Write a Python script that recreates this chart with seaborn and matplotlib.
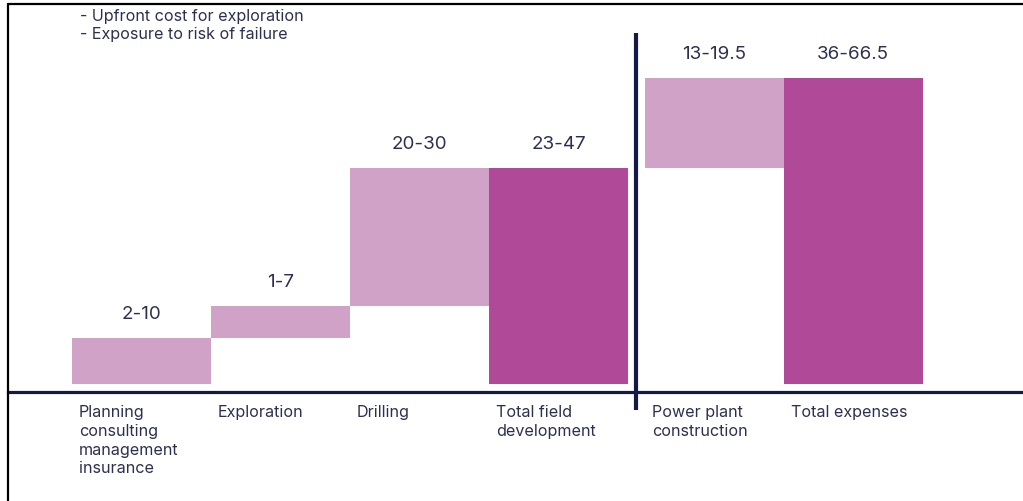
import matplotlib
matplotlib.use("Agg")
import matplotlib.pyplot as plt
from matplotlib.lines import Line2D
import seaborn as sns
import numpy as np

# Cost ranges per stage (low / high estimate)
stages = [
    "Planning\nconsulting\nmanagement\ninsurance",
    "Exploration",
    "Drilling",
    "Total field\ndevelopment",
    "Power plant\nconstruction",
    "Total expenses",
]
range_low = [2, 1, 20, 23, 13, 36]
range_high = [10, 7, 30, 47, 19.5, 66.5]
range_labels = ["2-10", "1-7", "20-30", "23-47", "13-19.5", "36-66.5"]
is_total = [False, False, False, True, False, True]
notes = ["- Upfront cost for exploration", "- Exposure to risk of failure"]

LIGHT = "#d0a2c7"
DARK = "#b04a98"
NAVY = "#141a45"
TEXT = "#2c3050"

sns.set_theme(style="white")
plt.rcParams["font.family"] = ["Inter", "DejaVu Sans"]

# Waterfall layout: components stack on the upper estimates, totals start at zero
bottoms, heights = [], []
running = 0.0
for hi, tot in zip(range_high, is_total):
    if tot:
        bottoms.append(0.0)
        running = hi
    else:
        bottoms.append(running)
        running += hi
    heights.append(hi)
bottoms = np.array(bottoms)
heights = np.array(heights, dtype=float)

gap = 0.12
positions = np.array([0, 1, 2, 3, 3 + 1 + gap, 4 + 1 + gap])

W, H = 1023, 502
left_px = 7.5
fig = plt.figure(figsize=(W / 100, H / 100), dpi=100)
ax = fig.add_axes([left_px / W, (H - 393) / H, 1 - left_px / W, 393 / H])

sns.barplot(x=positions, y=heights, bottom=bottoms, native_scale=True,
            width=1.0, color=LIGHT, linewidth=0, ax=ax)
for patch, tot in zip(ax.patches, is_total):
    patch.set_facecolor(DARK if tot else LIGHT)
    patch.set_edgecolor("none")

px_per_unit = 4.6
bar_px = 139
ax.set_xlim(-(141.5 - left_px) / bar_px, (W - 141.5) / bar_px)
ax.set_ylim(-(393 - 385) / px_per_unit, 385 / px_per_unit)

# range labels above each bar
for x, b, h, lab in zip(positions, bottoms, heights, range_labels):
    ax.annotate(lab, xy=(x, b + h), xytext=(0, 11.5), textcoords="offset points",
                ha="center", va="bottom", fontsize=13.5, color=TEXT)

# stage names under the axis line, left aligned to each bar
ax.set_xticks(positions - 0.5 + 0.05)
ax.set_xticklabels(stages, ha="left", va="top", fontsize=11.6, color=TEXT,
                   linespacing=1.3)
ax.tick_params(axis="x", length=0, pad=9)
ax.set_yticks([])
ax.set_xlabel("")
ax.set_ylabel("")

for side in ["top", "left", "right"]:
    ax.spines[side].set_visible(False)
ax.spines["bottom"].set_color(NAVY)
ax.spines["bottom"].set_linewidth(2.3)

# divider between field development and power plant
xdiv = (positions[3] + 0.5 + positions[4] - 0.5) / 2
ax.plot([xdiv, xdiv], [-(411 - 385) / px_per_unit, (385 - 34) / px_per_unit],
        color=NAVY, linewidth=3.0, clip_on=False, solid_capstyle="butt")

# notes at top left
for i, note in enumerate(notes):
    fig.text(80 / W, 1 - (16 + 19 * i) / H, note, ha="left", va="center",
             fontsize=11.6, color=TEXT)

# outer frame
fig.add_artist(Line2D([left_px / W, left_px / W], [0, 1 - 4.5 / H],
                      color="black", linewidth=1.6, transform=fig.transFigure))
fig.add_artist(Line2D([left_px / W, 1], [1 - 4.5 / H, 1 - 4.5 / H],
                      color="black", linewidth=1.6, transform=fig.transFigure))

fig.savefig("out.png", dpi=100, facecolor="white")
